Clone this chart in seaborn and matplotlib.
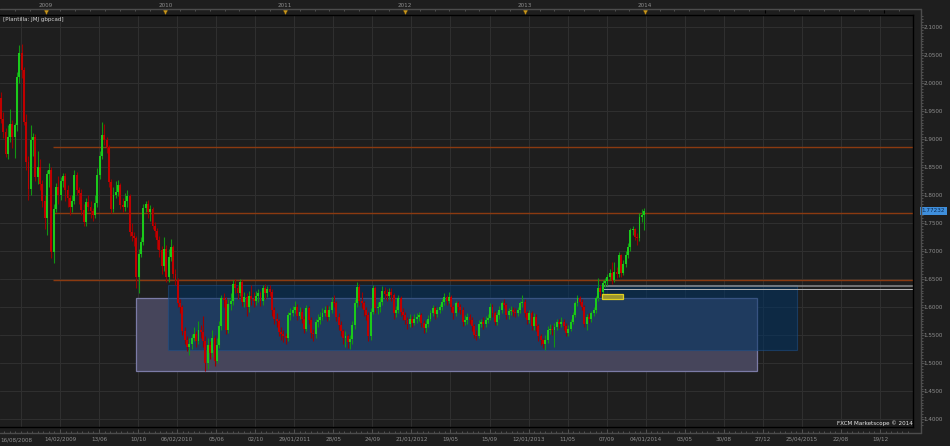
import matplotlib
matplotlib.use("Agg")
import matplotlib.pyplot as plt
import matplotlib.dates as mdates
import matplotlib.transforms as mtransforms
from matplotlib.patches import Rectangle
from matplotlib.lines import Line2D
from matplotlib.ticker import FixedLocator, MultipleLocator
import seaborn as sns
import pandas as pd
import numpy as np

# weekly GBP/CAD candles (first week 18/08/2008)
first_week = "2008-08-18"
first_open = 1.973
closes = [
    1.937, 1.913, 1.874, 1.904, 1.928, 1.905, 1.925, 2.012, 2.054, 2.023,
    1.931, 1.860, 1.812, 1.898, 1.905, 1.833, 1.850, 1.820, 1.790, 1.760,
    1.838, 1.845, 1.699, 1.776, 1.815, 1.800, 1.826, 1.835, 1.810, 1.795,
    1.780, 1.790, 1.836, 1.810, 1.805, 1.773, 1.752, 1.788, 1.780, 1.772,
    1.765, 1.787, 1.836, 1.871, 1.907, 1.898, 1.886, 1.824, 1.776, 1.800,
    1.806, 1.818, 1.782, 1.780, 1.790, 1.798, 1.735, 1.728, 1.723, 1.654,
    1.696, 1.717, 1.777, 1.785, 1.770, 1.775, 1.746, 1.737, 1.720, 1.703,
    1.673, 1.705, 1.655, 1.690, 1.708, 1.660, 1.649, 1.607, 1.600, 1.557,
    1.542, 1.530, 1.535, 1.545, 1.552, 1.540, 1.559, 1.556, 1.540, 1.500,
    1.533, 1.518, 1.545, 1.505, 1.533, 1.566, 1.616, 1.613, 1.560, 1.606,
    1.612, 1.642, 1.635, 1.625, 1.645, 1.610, 1.618, 1.600, 1.620, 1.615,
    1.612, 1.620, 1.625, 1.612, 1.634, 1.625, 1.632, 1.628, 1.595, 1.580,
    1.575, 1.556, 1.553, 1.548, 1.545, 1.586, 1.590, 1.595, 1.600, 1.585,
    1.592, 1.580, 1.562, 1.598, 1.578, 1.554, 1.552, 1.574, 1.578, 1.583,
    1.590, 1.595, 1.582, 1.595, 1.610, 1.607, 1.583, 1.568, 1.557, 1.545,
    1.548, 1.538, 1.543, 1.568, 1.607, 1.637, 1.612, 1.607, 1.595, 1.586,
    1.548, 1.592, 1.634, 1.598, 1.600, 1.610, 1.630, 1.624, 1.621, 1.628,
    1.622, 1.589, 1.595, 1.616, 1.592, 1.586, 1.577, 1.570, 1.580, 1.572,
    1.580, 1.582, 1.586, 1.572, 1.563, 1.571, 1.580, 1.590, 1.598, 1.588,
    1.595, 1.600, 1.610, 1.619, 1.612, 1.618, 1.600, 1.589, 1.607, 1.600,
    1.595, 1.574, 1.577, 1.583, 1.577, 1.566, 1.551, 1.548, 1.571, 1.574,
    1.570, 1.577, 1.581, 1.601, 1.589, 1.574, 1.586, 1.596, 1.607, 1.604,
    1.586, 1.593, 1.595, 1.592, 1.590, 1.595, 1.607, 1.609, 1.589, 1.577,
    1.589, 1.566, 1.583, 1.566, 1.548, 1.541, 1.535, 1.542, 1.559, 1.562,
    1.559, 1.565, 1.574, 1.570, 1.574, 1.567, 1.554, 1.562, 1.574, 1.586,
    1.607, 1.616, 1.610, 1.601, 1.571, 1.583, 1.579, 1.589, 1.595, 1.616,
    1.634, 1.628, 1.643, 1.647, 1.655, 1.661, 1.649, 1.663, 1.660, 1.693,
    1.661, 1.678, 1.693, 1.708, 1.738, 1.739, 1.726, 1.723, 1.762, 1.765,
    1.772,
]
highs = [
    1.985, 1.948, 1.920, 1.925, 1.955, 1.935, 1.930, 2.020, 2.068, 2.071,
    2.030, 1.945, 1.870, 1.925, 1.912, 1.910, 1.880, 1.865, 1.828, 1.800,
    1.845, 1.858, 1.850, 1.785, 1.822, 1.835, 1.832, 1.840, 1.840, 1.818,
    1.800, 1.800, 1.845, 1.842, 1.815, 1.812, 1.785, 1.795, 1.800, 1.790,
    1.778, 1.800, 1.848, 1.880, 1.931, 1.928, 1.905, 1.890, 1.830, 1.815,
    1.825, 1.828, 1.822, 1.795, 1.805, 1.810, 1.802, 1.750, 1.735, 1.728,
    1.705, 1.725, 1.785, 1.790, 1.792, 1.782, 1.780, 1.752, 1.742, 1.728,
    1.710, 1.725, 1.712, 1.705, 1.722, 1.712, 1.668, 1.652, 1.615, 1.605,
    1.565, 1.548, 1.545, 1.552, 1.565, 1.558, 1.575, 1.568, 1.585, 1.548,
    1.545, 1.540, 1.560, 1.550, 1.545, 1.575, 1.622, 1.625, 1.618, 1.615,
    1.625, 1.648, 1.650, 1.640, 1.650, 1.648, 1.628, 1.625, 1.630, 1.640,
    1.628, 1.630, 1.632, 1.630, 1.640, 1.642, 1.638, 1.640, 1.632, 1.600,
    1.590, 1.580, 1.565, 1.560, 1.555, 1.592, 1.598, 1.602, 1.612, 1.606,
    1.600, 1.598, 1.585, 1.605, 1.602, 1.582, 1.562, 1.580, 1.588, 1.592,
    1.598, 1.602, 1.605, 1.602, 1.618, 1.622, 1.612, 1.590, 1.575, 1.562,
    1.558, 1.552, 1.550, 1.575, 1.615, 1.645, 1.642, 1.628, 1.612, 1.600,
    1.592, 1.598, 1.640, 1.638, 1.610, 1.618, 1.638, 1.636, 1.632, 1.635,
    1.634, 1.626, 1.602, 1.622, 1.620, 1.598, 1.592, 1.582, 1.588, 1.585,
    1.588, 1.590, 1.592, 1.590, 1.578, 1.578, 1.586, 1.596, 1.605, 1.602,
    1.600, 1.606, 1.615, 1.625, 1.622, 1.628, 1.622, 1.605, 1.612, 1.612,
    1.606, 1.600, 1.586, 1.590, 1.588, 1.582, 1.570, 1.560, 1.578, 1.580,
    1.582, 1.585, 1.588, 1.608, 1.606, 1.594, 1.592, 1.602, 1.612, 1.614,
    1.608, 1.598, 1.602, 1.600, 1.598, 1.600, 1.612, 1.622, 1.614, 1.594,
    1.596, 1.594, 1.590, 1.588, 1.570, 1.552, 1.546, 1.550, 1.566, 1.570,
    1.568, 1.572, 1.580, 1.580, 1.582, 1.580, 1.572, 1.568, 1.580, 1.592,
    1.612, 1.622, 1.620, 1.614, 1.605, 1.588, 1.590, 1.594, 1.600, 1.620,
    1.652, 1.640, 1.648, 1.652, 1.660, 1.668, 1.681, 1.681, 1.672, 1.698,
    1.696, 1.684, 1.700, 1.715, 1.742, 1.745, 1.742, 1.732, 1.768, 1.776,
    1.778,
]
lows = [
    1.930, 1.902, 1.868, 1.865, 1.895, 1.885, 1.866, 1.915, 2.000, 2.010,
    1.925, 1.845, 1.791, 1.800, 1.870, 1.826, 1.820, 1.810, 1.780, 1.740,
    1.730, 1.815, 1.688, 1.680, 1.770, 1.785, 1.792, 1.815, 1.790, 1.780,
    1.765, 1.770, 1.785, 1.800, 1.785, 1.765, 1.745, 1.745, 1.772, 1.760,
    1.755, 1.760, 1.780, 1.830, 1.865, 1.890, 1.875, 1.815, 1.768, 1.770,
    1.795, 1.798, 1.775, 1.770, 1.772, 1.780, 1.728, 1.718, 1.710, 1.635,
    1.625, 1.690, 1.712, 1.770, 1.760, 1.755, 1.740, 1.725, 1.705, 1.690,
    1.660, 1.665, 1.645, 1.645, 1.682, 1.652, 1.640, 1.600, 1.590, 1.550,
    1.535, 1.522, 1.515, 1.525, 1.540, 1.530, 1.535, 1.545, 1.530, 1.487,
    1.490, 1.508, 1.512, 1.495, 1.500, 1.528, 1.560, 1.600, 1.552, 1.555,
    1.595, 1.605, 1.625, 1.615, 1.620, 1.602, 1.600, 1.585, 1.592, 1.605,
    1.600, 1.605, 1.610, 1.602, 1.605, 1.615, 1.618, 1.620, 1.585, 1.570,
    1.565, 1.548, 1.542, 1.538, 1.535, 1.540, 1.578, 1.585, 1.590, 1.578,
    1.580, 1.572, 1.555, 1.558, 1.570, 1.545, 1.540, 1.545, 1.565, 1.570,
    1.578, 1.585, 1.575, 1.578, 1.590, 1.600, 1.575, 1.560, 1.548, 1.535,
    1.530, 1.528, 1.525, 1.535, 1.562, 1.600, 1.605, 1.598, 1.585, 1.578,
    1.540, 1.542, 1.588, 1.590, 1.588, 1.592, 1.605, 1.615, 1.612, 1.615,
    1.612, 1.580, 1.582, 1.590, 1.585, 1.578, 1.570, 1.562, 1.565, 1.565,
    1.568, 1.572, 1.575, 1.565, 1.555, 1.556, 1.565, 1.575, 1.585, 1.580,
    1.582, 1.590, 1.595, 1.604, 1.605, 1.608, 1.592, 1.580, 1.585, 1.592,
    1.588, 1.566, 1.568, 1.570, 1.570, 1.558, 1.545, 1.542, 1.545, 1.565,
    1.562, 1.565, 1.572, 1.578, 1.582, 1.568, 1.568, 1.580, 1.590, 1.598,
    1.580, 1.580, 1.586, 1.585, 1.582, 1.584, 1.590, 1.600, 1.582, 1.570,
    1.572, 1.560, 1.560, 1.558, 1.540, 1.532, 1.527, 1.524, 1.536, 1.552,
    1.550, 1.530, 1.560, 1.563, 1.565, 1.560, 1.548, 1.548, 1.558, 1.570,
    1.582, 1.602, 1.604, 1.595, 1.565, 1.560, 1.572, 1.574, 1.584, 1.590,
    1.612, 1.620, 1.622, 1.636, 1.640, 1.648, 1.642, 1.645, 1.652, 1.655,
    1.655, 1.658, 1.672, 1.688, 1.700, 1.730, 1.720, 1.712, 1.718, 1.752,
    1.738,
]

# drawn levels and zones
level_prices = [1.8857, 1.7680, 1.6487]
level_from = "2009-01-24"
grey_prices = [1.6375, 1.6322]
grey_from = "2013-08-24"
zone_wide = ("2009-10-03", "2014-12-09", 1.4857, 1.6166)
zone_blue = ("2010-01-09", "2015-04-10", 1.5243, 1.6398)
zone_gold = ("2013-08-24", "2013-10-26", 1.6143, 1.6232)
last_price = 1.77232

# axes text
price_ticks = [1.40, 1.45, 1.50, 1.55, 1.60, 1.65, 1.70, 1.75, 1.80, 1.85,
               1.90, 1.95, 2.00, 2.05, 2.10]
date_labels = ["14/02/2009", "13/06", "10/10", "06/02/2010", "05/06", "02/10",
               "29/01/2011", "28/05", "24/09", "21/01/2012", "19/05", "15/09",
               "12/01/2013", "11/05", "07/09", "04/01/2014", "03/05", "30/08",
               "27/12", "25/04/2015", "22/08", "19/12"]
first_date_label = "16/08/2008"
years = ["2009", "2010", "2011", "2012", "2013", "2014"]
empty_years = ["2015", "2016"]
view = ("2008-08-15 05:00", "2016-03-28 12:00")
price_view = (1.3868, 2.1220)

bg = "#1e1e1e"
grid_c = "#2f2f2f"
txt_c = "#8e8e8e"
tick_c = "#5a5a5a"
sns.set_theme(style="dark", rc={"axes.facecolor": bg, "figure.facecolor": bg,
                                "savefig.facecolor": bg, "grid.color": grid_c,
                                "text.color": txt_c, "xtick.color": tick_c,
                                "ytick.color": tick_c})
plt.rcParams["font.family"] = ["DejaVu Sans"]
fs = 4.1

W, H = 950.0, 446.0
fig = plt.figure(figsize=(W / 100, H / 100), dpi=100)


def box(left, top, right, bottom):
    return [left / W, 1 - bottom / H, (right - left) / W, (bottom - top) / H]


ax = fig.add_axes(box(0, 15, 913, 426.7))
ax_t = fig.add_axes(box(0, 9, 913, 15))
ax_b = fig.add_axes(box(0, 426.7, 913, 433.3))
ax_r = fig.add_axes(box(921, 15, 923, 426.7))

xlim = mdates.date2num(pd.to_datetime(list(view)))
for a in (ax, ax_t, ax_b):
    a.set_xlim(xlim)
for a in (ax_t, ax_b, ax_r):
    a.set_facecolor("none")
    for s in a.spines.values():
        s.set_visible(False)
ax.set_ylim(price_view)
ax_r.set_ylim(price_view)
ax_t.set_ylim(0, 1)
ax_b.set_ylim(0, 1)

# grid
grid_dates = mdates.date2num(pd.date_range("2008-10-18", periods=len(date_labels) + 1, freq="119D"))
ax.set_xticks(grid_dates)
ax.set_yticks(price_ticks)
ax.tick_params(length=0, labelbottom=False, labelleft=False)
ax.grid(True, color=grid_c, lw=0.8)
ax.set_axisbelow(True)
ax.spines["left"].set_visible(False)
for s in ("top", "right", "bottom"):
    ax.spines[s].set_color("#000000")
    ax.spines[s].set_linewidth(1.0)

df = pd.DataFrame({"week": pd.date_range(first_week, periods=len(closes), freq="7D"),
                   "close": closes, "high": highs, "low": lows})
df["open"] = [first_open] + closes[:-1]
df["x"] = mdates.date2num(df["week"])
df["up"] = df["close"] >= df["open"]

# zones
def zone(z, **kw):
    x0, x1 = mdates.date2num(pd.to_datetime([z[0], z[1]]))
    ax.add_patch(Rectangle((x0, z[2]), x1 - x0, z[3] - z[2], **kw))

zone(zone_wide, facecolor="#46455b", edgecolor="#7b7ba6", lw=0.9, zorder=1)
zone(zone_blue, facecolor="#003364", alpha=0.55, edgecolor="#1d4f8a", lw=0.8, zorder=1.2)

# levels
lx0 = mdates.date2num(pd.Timestamp(level_from))
ax.hlines(level_prices, lx0, xlim[1], colors="#8b3a10", lw=1.0, zorder=2)
gx0 = mdates.date2num(pd.Timestamp(grey_from))
ax.hlines(grey_prices[0], gx0, xlim[1], colors="#8a8a8a", lw=1.1, zorder=2)
ax.hlines(grey_prices[1], gx0, xlim[1], colors="#b5b5b5", lw=0.7, zorder=2)

# candles
green, red = "#1bca1b", "#c00000"
ax.vlines(df["x"], df["low"], df["high"],
          colors=np.where(df["up"], "#129612", "#9a0000"), lw=0.8, zorder=3)
body = (df["close"] - df["open"]).to_numpy()
body = np.where(np.abs(body) < 0.0012, 0.0012, body)
ax.bar(df["x"], body, bottom=df["open"], width=5.8,
       color=np.where(df["up"], green, red), lw=0, zorder=4)

zone(zone_gold, facecolor="#9a9530", edgecolor="#e0d020", lw=0.9, zorder=5)

ax.text(3 / 913, 0.989, "[Plantilla: JMJ gbpcad]", transform=ax.transAxes,
        ha="left", va="center", fontsize=fs, color="#cfcfcf")
ax.text(0.9995, 0.0085, "FXCM Marketscope \u00a9 2014", transform=ax.transAxes,
        ha="right", va="center", fontsize=fs, color="#e6e6e6")

# bottom date strip
ax_b.set_xticks(grid_dates[1:], date_labels)
ax_b.xaxis.set_minor_locator(FixedLocator(
    mdates.date2num(pd.date_range("2008-08-28", view[1], freq="17D"))))
ax_b.tick_params(axis="x", which="both", direction="in", bottom=True, top=False,
                 labelsize=fs, labelcolor=txt_c, color=tick_c, pad=2.4)
ax_b.tick_params(axis="x", which="major", length=3.0, width=0.6)
ax_b.tick_params(axis="x", which="minor", length=1.6, width=0.6)
ax_b.set_yticks([])
fig.text(0.0, 1 - 440 / H, first_date_label, ha="left", va="center",
         fontsize=fs, color=txt_c)

# top year strip
year_x = mdates.date2num(pd.to_datetime([y + "-01-01" for y in years]))
empty_x = mdates.date2num(pd.to_datetime([y + "-01-01" for y in empty_years]))
ax_t.xaxis.set_ticks_position("top")
ax_t.set_xticks(np.concatenate([year_x, empty_x]), years + ["", ""])
q = pd.date_range("2008-07-01", "2016-04-01", freq="QS")
qmin = list(q[q.month != 1]) + list(q + pd.Timedelta(days=45))
ax_t.xaxis.set_minor_locator(FixedLocator(mdates.date2num(pd.DatetimeIndex(qmin))))
ax_t.tick_params(axis="x", which="both", direction="in", top=True, bottom=False,
                 labeltop=True, labelbottom=False, labelsize=fs,
                 labelcolor=txt_c, color=tick_c, length=1.6, width=0.6, pad=1.0)
ax_t.set_yticks([])
sns.scatterplot(x=year_x, y=[0.5] * len(year_x), marker="v", s=13, color="#c8961e",
                edgecolor="#4a3500", linewidth=0.3, ax=ax_t, legend=False, zorder=5)
sns.scatterplot(x=empty_x, y=[0.65] * len(empty_x), marker="|", s=10, color="#000000",
                linewidth=0.8, ax=ax_t, legend=False)
ax_t.set_xlim(xlim)
ax_t.set_ylim(0, 1)
ax_t.set_xlabel("")
ax_t.set_ylabel("")

# right price scale
ax_r.set_yticks(price_ticks, [f"{p:.4f}" for p in price_ticks])
ax_r.yaxis.set_minor_locator(MultipleLocator(0.005))
ax_r.tick_params(axis="y", which="both", direction="in", left=True, right=False,
                 labelleft=False, labelright=True, labelsize=fs,
                 labelcolor=txt_c, color=tick_c, width=0.6, pad=0.3)
ax_r.tick_params(axis="y", which="major", length=1.8)
ax_r.tick_params(axis="y", which="minor", length=1.1)
ax_r.set_xticks([])
ax_r.text(0.35, last_price, f"{last_price:.5f}",
          transform=mtransforms.blended_transform_factory(ax_r.transAxes, ax_r.transData),
          ha="left", va="center", fontsize=fs, color="#0c2a52", zorder=6,
          bbox=dict(boxstyle="square,pad=0.25", fc="#3f8fdc", ec="none"))

# outer frame of the scales
frame_c = "#4c4c4c"
fig.add_artist(Line2D([0, 921 / W], [1 - 9 / H, 1 - 9 / H], color=frame_c, lw=1.0))
fig.add_artist(Line2D([921 / W, 921 / W], [1 - 9 / H, 1 - 433.3 / H], color=frame_c, lw=1.0))
fig.add_artist(Line2D([0, 921 / W], [1 - 433.3 / H, 1 - 433.3 / H], color=frame_c, lw=1.0))

fig.savefig("out.png", dpi=100, facecolor=bg)
